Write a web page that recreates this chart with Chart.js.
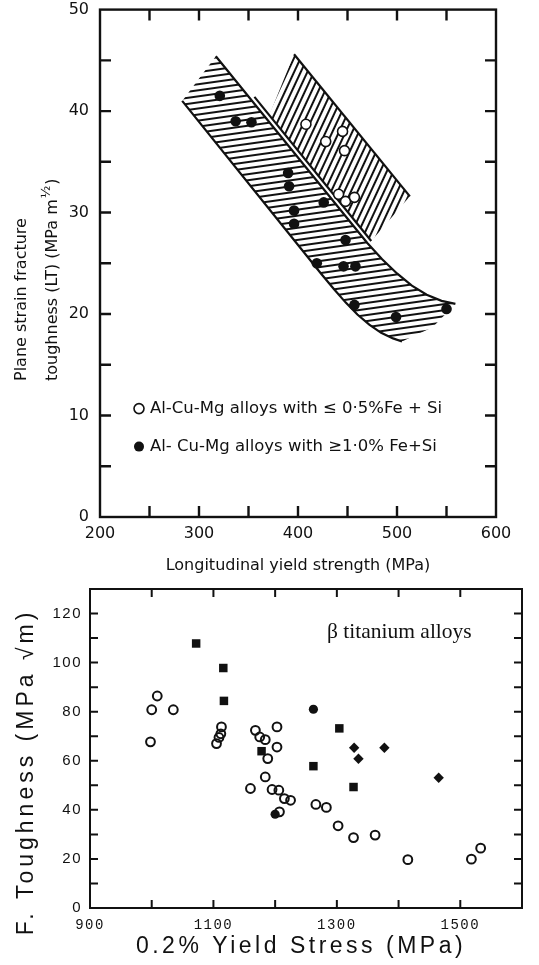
<!DOCTYPE html>
<html>
<head>
<meta charset="utf-8">
<script src="https://cdn.jsdelivr.net/npm/chart.js@4.4.1/dist/chart.umd.min.js"></script>
<style>
  html, body { margin: 0; padding: 0; background: #fff; }
  body { width: 539px; height: 965px; position: relative; overflow: hidden; }
  #top { position: absolute; left: 0; top: 0; }
  #bottom { position: absolute; left: 0; top: 580px; }
</style>
</head>
<body>
<canvas id="top" width="539" height="580"></canvas>
<canvas id="bottom" width="539" height="385"></canvas>
<script>
// ---------- upper plot: Al-Cu-Mg alloys ----------
const lowFeYield = [408, 445, 428, 447, 441, 448, 457];
const lowFeK = [38.7, 38.0, 37.0, 36.1, 31.8, 31.1, 31.5];
const highFeYield = [321, 337, 353, 390, 391, 396, 396, 426, 448, 419, 446, 458, 457, 499, 550];
const highFeK = [41.5, 39.0, 38.9, 33.9, 32.6, 30.2, 28.9, 31.0, 27.3, 25.0, 24.7, 24.7, 20.9, 19.7, 20.5];

// scatter band of the high Fe+Si alloys
const bandUpperX = [317, 470, 485, 500, 515, 530, 545, 559];
const bandUpperY = [45.4, 27.0, 25.4, 24.0, 22.8, 21.9, 21.3, 21.0];
const bandLowerX = [283, 424, 436, 448, 460, 472, 484, 496, 505];
const bandLowerY = [41.0, 23.9, 22.5, 21.15, 19.95, 18.95, 18.15, 17.6, 17.3];
const bandEndX = [536];
const bandEndY = [18.7];

// scatter band of the low Fe+Si alloys
const lowBandX = [371, 396, 513, 474];
const lowBandY = [39.6, 45.6, 31.6, 27.2];
const dividerX = [356, 474];
const dividerY = [41.4, 27.2];

const keyLabels = ["Al-Cu-Mg alloys with \u2264 0\u00b75%Fe + Si", "Al- Cu-Mg alloys with \u22651\u00b70% Fe+Si"];
const topYTitle = ["Plane strain fracture", "toughness (LT) (MPa m", "\u00bd", ")"];

// ---------- lower plot: beta titanium alloys ----------
const tiOpenYield = [1000, 1009, 1035, 998, 1105, 1109, 1112, 1113, 1168, 1175, 1184, 1203, 1203, 1188, 1184,
  1160, 1195, 1206, 1215, 1225, 1207, 1266, 1283, 1302, 1327, 1362, 1415, 1518, 1533];
const tiOpenK = [80.8, 86.4, 80.8, 67.7, 67, 69.5, 71, 73.8, 72.4, 69.7, 68.6, 73.8, 65.6, 60.9, 53.4,
  48.7, 48.3, 48, 44.6, 43.9, 39.2, 42.2, 41, 33.5, 28.7, 29.7, 19.7, 19.9, 24.4];
const tiSquareYield = [1072, 1116, 1117, 1178, 1262, 1304, 1327];
const tiSquareK = [107.8, 97.8, 84.4, 63.9, 57.8, 73.2, 49.3];
const tiDotYield = [1262, 1200];
const tiDotK = [81, 38.2];
const tiDiamondYield = [1328, 1335, 1377, 1465];
const tiDiamondK = [65.3, 60.8, 65.3, 53.1];
const tiNote = "\u03b2 titanium alloys";
const tiXTitle = "0.2% Yield Stress (MPa)";
const tiYTitle = "F. Toughness (MPa \u221am)";

const pts = (xs, ys) => xs.map((x, i) => ({ x: x, y: ys[i] }));
const ink = "#111";

function hatch(canvasId, angle, gap, lw) {
  let c = document.createElement("canvas");
  c.width = 20; c.height = gap;
  let g = c.getContext("2d");
  g.fillStyle = ink;
  g.fillRect(0, (gap - lw) / 2, 20, lw);
  let p = document.getElementById(canvasId).getContext("2d").createPattern(c, "repeat");
  p.setTransform(new DOMMatrix().rotateSelf(angle));
  return p;
}

function edge(xs, ys) {
  return { data: pts(xs, ys), showLine: true, borderColor: ink, borderWidth: 2.2, pointRadius: 0, fill: false };
}

// box round the plot with inward tick marks on all four sides
const frame = {
  id: "frame",
  afterDraw(chart, args, opts) {
    let { ctx, chartArea: a, scales: { x, y } } = chart;
    ctx.save();
    ctx.strokeStyle = ink;
    ctx.lineWidth = opts.lw;
    ctx.strokeRect(a.left, a.top, a.right - a.left, a.bottom - a.top);
    ctx.beginPath();
    x.ticks.forEach(t => {
      let px = x.getPixelForValue(t.value);
      if (px < a.left + 2 || px > a.right - 2) return;
      ctx.moveTo(px, a.bottom); ctx.lineTo(px, a.bottom - opts.len);
      ctx.moveTo(px, a.top); ctx.lineTo(px, a.top + opts.len);
    });
    y.ticks.forEach(t => {
      let py = y.getPixelForValue(t.value);
      if (py < a.top + 2 || py > a.bottom - 2) return;
      ctx.moveTo(a.left, py); ctx.lineTo(a.left + opts.len, py);
      ctx.moveTo(a.right, py); ctx.lineTo(a.right - opts.len, py);
    });
    ctx.stroke();
    ctx.restore();
  }
};

// key written inside the upper plot, and its two-line side title
const keyText = {
  id: "keyText",
  afterDraw(chart) {
    let { ctx, chartArea: a } = chart;
    ctx.save();
    ctx.font = "16.5px 'DejaVu Sans'";
    ctx.fillStyle = ink;
    ctx.textBaseline = "middle";
    keyLabels.forEach((txt, i) => {
      let cy = a.top + 399 + i * 38;
      ctx.beginPath();
      ctx.arc(a.left + 39, cy, 5, 0, Math.PI * 2);
      if (i === 0) { ctx.lineWidth = 1.6; ctx.strokeStyle = ink; ctx.stroke(); }
      else ctx.fill();
      ctx.fillText(txt, a.left + 50, cy);
    });

    ctx.translate(22, 381);
    ctx.rotate(-Math.PI / 2);
    ctx.font = "16px 'DejaVu Sans'";
    ctx.fillText(topYTitle[0], 0, 0);
    ctx.fillText(topYTitle[1], 0, 31);
    let w = ctx.measureText(topYTitle[1]).width;
    ctx.font = "13px 'DejaVu Sans'";
    ctx.fillText(topYTitle[2], w + 1, 25);
    let w2 = ctx.measureText(topYTitle[2]).width;
    ctx.font = "16px 'DejaVu Sans'";
    ctx.fillText(topYTitle[3], w + w2 + 2, 31);
    ctx.restore();
  }
};

const noteText = {
  id: "noteText",
  beforeDraw(chart) { chart.ctx.letterSpacing = "1.5px"; },
  afterDraw(chart) {
    let { ctx, chartArea: a } = chart;
    ctx.save();
    ctx.fillStyle = ink;
    ctx.textBaseline = "middle";
    ctx.letterSpacing = "0px";
    ctx.font = "21.5px 'Liberation Serif'";
    ctx.fillText(tiNote, a.left + 237, a.top + 43);

    ctx.letterSpacing = "3.5px";
    ctx.font = "23px 'Liberation Sans'";
    ctx.textAlign = "center";
    ctx.fillText(tiXTitle, 301, 367);
    ctx.letterSpacing = "4px";
    ctx.translate(27, 192);
    ctx.rotate(-Math.PI / 2);
    ctx.fillText(tiYTitle, 0, 0);
    ctx.restore();
  }
};

let leftPoly = pts(bandLowerX.slice(0, 1), bandLowerY.slice(0, 1))
  .concat(pts(bandUpperX, bandUpperY))
  .concat(pts(bandEndX, bandEndY))
  .concat(pts(bandLowerX, bandLowerY).reverse());
let rightPoly = pts(lowBandX, lowBandY);
rightPoly.push(rightPoly[0]);

let topChart = new Chart(document.getElementById("top"), {
  type: "scatter",
  data: {
    datasets: [
      { data: pts(lowFeYield, lowFeK), pointRadius: 5, pointBackgroundColor: "#fff", pointBorderColor: ink, pointBorderWidth: 1.6 },
      { data: pts(highFeYield, highFeK), pointRadius: 5.3, pointBackgroundColor: ink, pointBorderColor: ink, pointBorderWidth: 0 },
      edge(bandUpperX, bandUpperY),
      edge(bandLowerX, bandLowerY),
      edge(dividerX, dividerY),
      edge(lowBandX.slice(1, 3), lowBandY.slice(1, 3)),
      { data: leftPoly, showLine: true, fill: "shape", backgroundColor: hatch("top", -8, 6, 2), borderWidth: 0, pointRadius: 0 },
      { data: rightPoly, showLine: true, fill: "shape", backgroundColor: hatch("top", -65, 6, 2), borderWidth: 0, pointRadius: 0 }
    ]
  },
  options: {
    responsive: false,
    animation: false,
    layout: { padding: { top: 0, right: 43, left: 0, bottom: 0 } },
    plugins: { legend: { display: false }, tooltip: { enabled: false }, frame: { lw: 2.4, len: 11 } },
    scales: {
      x: {
        type: "linear", min: 200, max: 600,
        afterFit: s => { s.height = 63; },
        grid: { display: false, drawTicks: false }, border: { display: false },
        ticks: { stepSize: 50, autoSkip: false, maxRotation: 0, padding: 7, color: ink,
          font: { family: "DejaVu Sans", size: 16 },
          callback: v => v % 100 === 0 ? v : "" },
        title: { display: true, text: "Longitudinal yield strength (MPa)", color: ink,
          font: { family: "DejaVu Sans", size: 16 }, padding: { top: 0, bottom: 5 } }
      },
      y: {
        min: 0, max: 50,
        afterFit: s => { s.width = 100; },
        grid: { display: false, drawTicks: true, tickLength: 11 }, border: { display: false },
        ticks: { stepSize: 5, autoSkip: false, padding: 0, color: ink,
          font: { family: "DejaVu Sans", size: 16 },
          callback: v => v % 10 === 0 ? v : "" }
      }
    }
  },
  plugins: [frame, keyText]
});

let bottomChart = new Chart(document.getElementById("bottom"), {
  type: "scatter",
  data: {
    datasets: [
      { data: pts(tiOpenYield, tiOpenK), pointRadius: 4.4, pointBackgroundColor: "rgba(255,255,255,0)", pointBorderColor: ink, pointBorderWidth: 2 },
      { data: pts(tiSquareYield, tiSquareK), pointStyle: "rect", pointRadius: 6, pointBackgroundColor: ink, pointBorderColor: ink, pointBorderWidth: 0 },
      { data: pts(tiDotYield, tiDotK), pointRadius: 4.6, pointBackgroundColor: ink, pointBorderColor: ink, pointBorderWidth: 0 },
      { data: pts(tiDiamondYield, tiDiamondK), pointStyle: "rectRot", pointRadius: 5.2, pointBackgroundColor: ink, pointBorderColor: ink, pointBorderWidth: 0 }
    ]
  },
  options: {
    responsive: false,
    animation: false,
    layout: { padding: { top: 0, right: 17, left: 0, bottom: 0 } },
    plugins: { legend: { display: false }, tooltip: { enabled: false }, frame: { lw: 2, len: 8 } },
    scales: {
      x: {
        type: "linear", min: 900, max: 1600,
        afterFit: s => { s.height = 57; },
        grid: { display: false, drawTicks: false }, border: { display: false },
        ticks: { stepSize: 100, autoSkip: false, maxRotation: 0, padding: 9, color: ink,
          font: { family: "Liberation Mono", size: 14 },
          callback: v => (v - 900) % 200 === 0 ? v : "" }
      },
      y: {
        min: 0, max: 130,
        afterFit: s => { s.width = 90; },
        grid: { display: false, drawTicks: true, tickLength: 8 }, border: { display: false },
        ticks: { stepSize: 10, autoSkip: false, padding: 0, color: ink,
          font: { family: "Liberation Sans", size: 15 },
          callback: v => v % 20 === 0 ? v : "" }
      }
    }
  },
  plugins: [frame, noteText]
});
</script>
</body>
</html>
